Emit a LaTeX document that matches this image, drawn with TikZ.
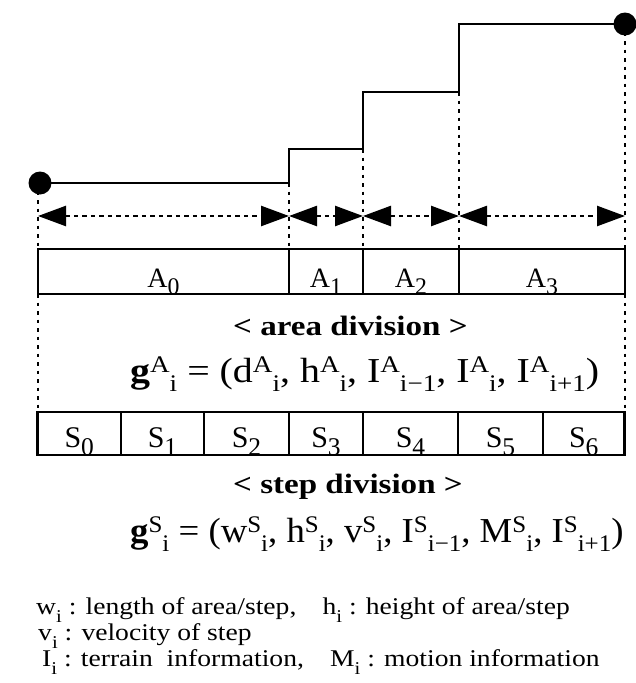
\documentclass[tikz,border=0pt]{standalone}
\usepackage{fontspec}
\setmainfont{Liberation Serif}
\usetikzlibrary{positioning,arrows.meta}

\newcommand{\low}[1]{\raisebox{-0.28em}{\scalebox{0.85}{#1}}}
\newcommand{\ix}[1]{\raisebox{-0.35em}{\scalebox{0.75}{#1}}}
\newcommand{\gs}[2]{\raisebox{0.28em}{\scalebox{0.68}{#1}}\raisebox{-0.28em}{\scalebox{0.68}{#2}}}

\begin{document}
\begin{tikzpicture}[x=1pt, y=-1pt]
    % Define styles
    \tikzstyle{terrain} = [line width=2.6pt]
    \tikzstyle{guide} = [line width=2.5pt, dash pattern=on 3.5pt off 5pt]
    \tikzstyle{span} = [line width=2.5pt, dash pattern=on 4.5pt off 4pt, {Triangle[length=28pt,width=20pt]}-{Triangle[length=28pt,width=20pt]}]
    \tikzstyle{acell} = [rectangle, draw, line width=2.8pt, inner sep=0pt, outer sep=0pt, minimum height=45pt, text height=38pt, text depth=7pt, font=\fontsize{28}{28}\selectfont]
    \tikzstyle{scell} = [acell, minimum height=43pt, text height=35pt, text depth=8pt, font=\fontsize{30}{30}\selectfont]
    \tikzstyle{title} = [anchor=base west, inner sep=0pt, font=\fontsize{28}{28}\selectfont\bfseries]
    \tikzstyle{formula} = [anchor=base west, inner sep=0pt, font=\fontsize{35}{35}\selectfont]
    \tikzstyle{note} = [anchor=base west, inner sep=0pt, font=\fontsize{24}{26}\selectfont]

    \useasboundingbox (0,0) rectangle (635,683);

    % Terrain points
    \coordinate (p0) at (38,183);
    \coordinate (p1) at (289,183);
    \coordinate (p2) at (363,149);
    \coordinate (p3) at (459,92);
    \coordinate (p4) at (625,24);
    \coordinate (mid) at (0,216);

    % Area division
    \node[acell, minimum width=251pt] (a0) at (163.5,271.5) {A\low{0}};
    \node[acell, minimum width=74pt, right=0pt of a0] (a1) {A\low{1}};
    \node[acell, minimum width=96pt, right=0pt of a1] (a2) {A\low{2}};
    \node[acell, minimum width=166pt, right=0pt of a2] (a3) {A\low{3}};

    % Step division
    \node[scell, minimum width=83.5pt] (s0) at (79.25,433.5) {S\low{0}};
    \node[scell, minimum width=83pt, right=0pt of s0] (s1) {S\low{1}};
    \node[scell, minimum width=85pt, right=0pt of s1] (s2) {S\low{2}};
    \node[scell, minimum width=74pt, right=0pt of s2] (s3) {S\low{3}};
    \node[scell, minimum width=95pt, right=0pt of s3] (s4) {S\low{4}};
    \node[scell, minimum width=85pt, right=0pt of s4] (s5) {S\low{5}};
    \node[scell, minimum width=81.5pt, right=0pt of s5] (s6) {S\low{6}};

    % Terrain profile
    \draw[terrain] (p0) -- (p1) |- (p2) |- (p3) |- (p4);
    \fill ([xshift=2pt]p0) circle (11.5pt);
    \fill (p4) circle (11.5pt);

    % Guides
    \draw[guide] (p0) -- (a0.north west);
    \draw[guide] (p1) -- (a0.north east);
    \draw[guide] (p2) -- (a1.north east);
    \draw[guide] (p3) -- (a2.north east);
    \draw[guide] (p4) -- (a3.north east);
    \draw[guide] (a0.south west) -- (a0.south west |- s0.north);
    \draw[guide] (a3.south east) -- (a3.south east |- s6.north);

    % Spans
    \draw[span] (p0 |- mid) -- (p1 |- mid);
    \draw[span] (p1 |- mid) -- (p2 |- mid);
    \draw[span] (p2 |- mid) -- (p3 |- mid);
    \draw[span] (p3 |- mid) -- (p4 |- mid);

    % Texts
    \node[title] (atitle) at (233,335) {\scalebox{1.18}[1]{< area division >}};
    \node[formula] (aform) at (130,382) {\scalebox{1.14}[1]{\textbf{g}\gs{A}{i} = (d\gs{A}{i}, h\gs{A}{i}, I\gs{A}{i−1}, I\gs{A}{i}, I\gs{A}{i+1})}};
    \node[title] (stitle) at (233,493) {\scalebox{1.18}[1]{< step division >}};
    \node[formula] (sform) at (130,542) {\scalebox{1.05}[1]{\textbf{g}\gs{S}{i} = (w\gs{S}{i}, h\gs{S}{i}, v\gs{S}{i}, I\gs{S}{i−1}, M\gs{S}{i}, I\gs{S}{i+1})}};

    % Legend
    \node[note] (n1) at (36,614) {\scalebox{1.15}[1]{w\ix{i} : length of area/step,\hspace{0.7em} h\ix{i} : height of area/step}};
    \node[note] (n2) at (38,640) {\scalebox{1.15}[1]{v\ix{i} : velocity of step}};
    \node[note] (n3) at (42,666) {\scalebox{1.15}[1]{I\ix{i} : terrain\ \ information,\hspace{0.7em} M\ix{i} : motion information}};
\end{tikzpicture}
\end{document}
